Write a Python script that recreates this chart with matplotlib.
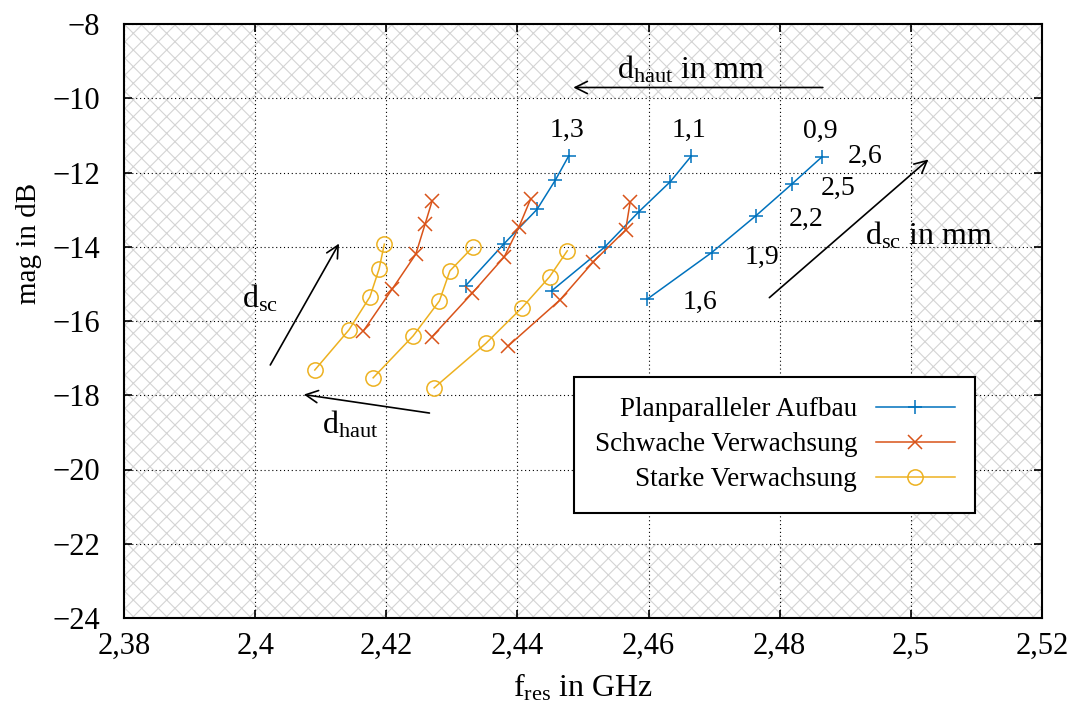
import matplotlib
matplotlib.use("Agg")
import matplotlib.pyplot as plt
from matplotlib.patches import Rectangle
from matplotlib.ticker import FuncFormatter

plt.rcParams['font.family'] = ['Liberation Serif', 'DejaVu Serif']
plt.rcParams['mathtext.fontset'] = 'custom'
plt.rcParams['mathtext.rm'] = 'Liberation Serif'
plt.rcParams['mathtext.it'] = 'Liberation Serif:italic'
plt.rcParams['hatch.linewidth'] = 0.8

# Planparalleler Aufbau (d_haut = 1,3 / 1,1 / 0,9 mm)
plan_f = [[2.4321, 2.4379, 2.4430, 2.4458, 2.4478],
          [2.4452, 2.4533, 2.4585, 2.4633, 2.4665],
          [2.4598, 2.4696, 2.4764, 2.4818, 2.4865]]
plan_mag = [[-15.05, -13.93, -12.99, -12.20, -11.56],
            [-15.19, -14.01, -13.06, -12.25, -11.56],
            [-15.41, -14.16, -13.16, -12.32, -11.57]]

# Schwache Verwachsung
schw_f = [[2.4165, 2.4209, 2.4245, 2.4259, 2.4270],
          [2.4270, 2.4331, 2.4380, 2.4402, 2.4420],
          [2.4386, 2.4465, 2.4516, 2.4565, 2.4572]]
schw_mag = [[-16.27, -15.14, -14.20, -13.40, -12.76],
            [-16.42, -15.25, -14.27, -13.48, -12.72],
            [-16.67, -15.43, -14.40, -13.55, -12.79]]

# Starke Verwachsung
stark_f = [[2.4091, 2.4143, 2.4175, 2.4189, 2.4197],
           [2.4180, 2.4241, 2.4281, 2.4297, 2.4332],
           [2.4273, 2.4352, 2.4407, 2.4449, 2.4476]]
stark_mag = [[-17.32, -16.24, -15.35, -14.60, -13.93],
             [-17.53, -16.40, -15.46, -14.65, -14.01],
             [-17.80, -16.60, -15.64, -14.81, -14.11]]

dhaut_labels = ['1,3', '1,1', '0,9']
dsc_labels = ['1,6', '1,9', '2,2', '2,5', '2,6']

xticks = [2.38, 2.40, 2.42, 2.44, 2.46, 2.48, 2.50, 2.52]
yticks = [-24, -22, -20, -18, -16, -14, -12, -10, -8]

c_blue = '#0072BD'
c_red = '#D95319'
c_yel = '#EDB120'

fig = plt.figure(figsize=(10.72, 7.06), dpi=100)
ax = fig.add_axes([124/1072, 1 - 618/706, 918/1072, 594/706])
ax.set_xlim(2.38, 2.52)
ax.set_ylim(-24, -8)

# schraffierte Bereiche ausserhalb
hcol = '#d4d4d4'
for (x0, y0, w, h) in [(2.38, -24, 0.02, 16), (2.50, -24, 0.02, 16),
                       (2.40, -10, 0.10, 2), (2.40, -24, 0.10, 2)]:
    ax.add_patch(Rectangle((x0, y0), w, h, hatch='xx', fill=False,
                           edgecolor=hcol, linewidth=0, zorder=0))

ax.set_xticks(xticks)
ax.set_yticks(yticks)
ax.xaxis.set_major_formatter(FuncFormatter(lambda v, p: ('%g' % v).replace('.', ',')))
ax.yaxis.set_major_formatter(FuncFormatter(lambda v, p: ('%g' % v).replace('-', '\u2212')))
ax.tick_params(direction='in', top=True, right=True, length=6, width=1.2,
               labelsize=22)
ax.tick_params(axis='x', pad=10)
ax.tick_params(axis='y', pad=17)
ax.grid(True, color='black', linestyle=(0, (1, 2.5)), linewidth=0.8)
ax.set_axisbelow(True)
for s in ax.spines.values():
    s.set_linewidth(1.5)

kw = dict(linewidth=1.1, markersize=10, markeredgewidth=1.1)
for i in range(3):
    ax.plot(plan_f[i], plan_mag[i], color=c_blue, marker='+',
            label='Planparalleler Aufbau' if i == 0 else None, zorder=3, **kw)
for i in range(3):
    ax.plot(schw_f[i], schw_mag[i], color=c_red, marker='x',
            label='Schwache Verwachsung' if i == 0 else None, zorder=3, **kw)
for i in range(3):
    ax.plot(stark_f[i], stark_mag[i], color=c_yel, marker='o', markerfacecolor='none',
            label='Starke Verwachsung' if i == 0 else None, zorder=3,
            linewidth=1.1, markersize=11, markeredgewidth=1.1)

# Beschriftungen
for i in range(3):
    ax.text(plan_f[i][-1] - 0.0003, plan_mag[i][-1] + 0.35, dhaut_labels[i],
            fontsize=20, ha='center', va='bottom')
offs = [(0.0080, -0.08), (0.0077, -0.14), (0.0076, -0.1), (0.0071, -0.1), (0.0065, 0.0)]
for j in range(5):
    ax.text(plan_f[2][j] + offs[j][0], plan_mag[2][j] + offs[j][1], dsc_labels[j],
            fontsize=20, ha='center', va='center')

arr = dict(arrowstyle='->', color='black', lw=1.2, mutation_scale=22)
ax.annotate('', xy=(2.4481, -9.71), xytext=(2.4870, -9.71), arrowprops=arr)
ax.text(2.4664, -9.22, r'$\mathrm{d}_\mathrm{haut}$ in mm', fontsize=23, ha='center', va='center')
ax.annotate('', xy=(2.5030, -11.60), xytext=(2.4781, -15.42), arrowprops=arr)
ax.text(2.5027, -13.70, r'$\mathrm{d}_\mathrm{sc}$ in mm', fontsize=23, ha='center', va='center')
ax.annotate('', xy=(2.4130, -13.85), xytext=(2.4021, -17.25), arrowprops=arr)
ax.text(2.4008, -15.40, r'$\mathrm{d}_\mathrm{sc}$', fontsize=23, ha='center', va='center')
ax.annotate('', xy=(2.4070, -17.97), xytext=(2.4270, -18.49), arrowprops=arr)
ax.text(2.4145, -18.80, r'$\mathrm{d}_\mathrm{haut}$', fontsize=23, ha='center', va='center')

ax.set_xlabel(r'$\mathrm{f}_\mathrm{res}$ in GHz', fontsize=23, labelpad=8)
ax.set_ylabel('mag in dB', fontsize=21)
ax.yaxis.set_label_coords(-0.0893, 0.63)

leg = ax.legend(loc='upper right', bbox_to_anchor=(0.927, 0.4057), markerfirst=False,
                fontsize=19.5, frameon=True, fancybox=False, edgecolor='black',
                framealpha=1, handlelength=2.9, borderpad=0.75, labelspacing=0.37,
                handletextpad=0.7, borderaxespad=0)
leg.get_frame().set_linewidth(1.5)
for t in leg.get_texts():
    t.set_ha('right')
leg._legend_box.align = 'right'

fig.savefig('out.png', dpi=100)
